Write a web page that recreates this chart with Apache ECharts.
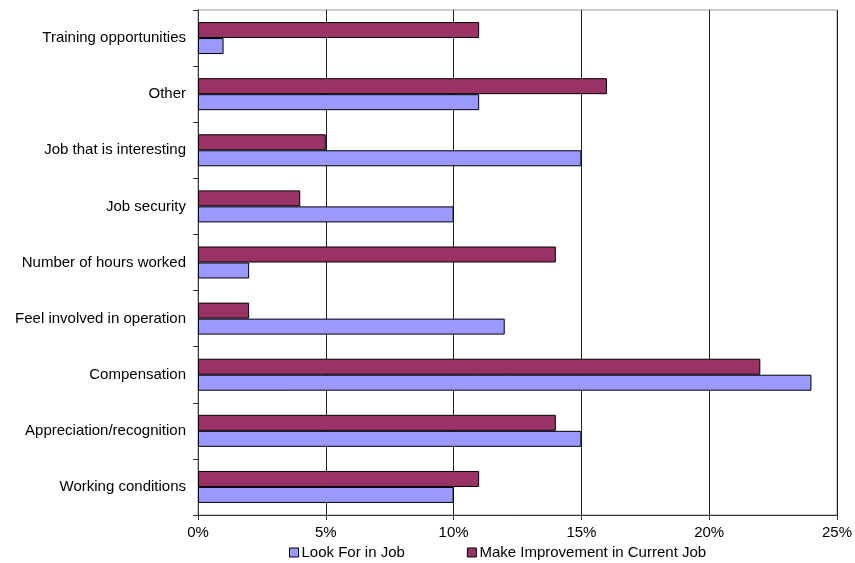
<!DOCTYPE html>
<html><head><meta charset="utf-8">
<script src="https://cdn.jsdelivr.net/npm/echarts@6/dist/echarts.min.js"></script>
<style>html,body{margin:0;padding:0;background:#fff}#c{width:855px;height:563px}</style>
</head><body><div id="c"></div>
<script>
const categories = ["Working conditions","Appreciation/recognition","Compensation","Feel involved in operation","Number of hours worked","Job security","Job that is interesting","Other","Training opportunities"];
const lookForInJob = [10,15,24,12,2,10,15,11,1];
const makeImprovement = [11,14,22,2,14,4,5,16,11];
const xTicks = [0,5,10,15,20,25];

const chart = echarts.init(document.getElementById('c'));
const font = 'Liberation Sans, Arial, sans-serif';
chart.setOption({
  animation:false,
  textStyle:{fontFamily:font},
  grid:{left:198,right:18,top:10,bottom:48,show:true,borderColor:'#9a9a9a',borderWidth:1,backgroundColor:'transparent'},
  legend:{
    top:545,left:289,itemWidth:9,itemHeight:9,itemGap:62,padding:0,
    textStyle:{fontFamily:font,fontSize:15,color:'#000',padding:[0,0,0,-2]},
    itemStyle:{borderColor:'#000',borderWidth:1},
    data:[{name:'Look For in Job',icon:'rect'},{name:'Make Improvement in Current Job',icon:'rect'}]
  },
  xAxis:{
    type:'value',min:xTicks[0],max:xTicks[xTicks.length-1],interval:5,
    axisLine:{show:true,lineStyle:{color:'#333'}},
    axisTick:{show:true,length:5,lineStyle:{color:'#333'}},
    axisLabel:{formatter:'{value}%',color:'#000',fontSize:15,fontFamily:font,margin:10},
    splitLine:{show:true,lineStyle:{color:'#222',width:1}}
  },
  yAxis:{
    type:'category',data:categories,
    axisLine:{show:true,lineStyle:{color:'#333'}},
    axisTick:{show:true,length:5,lineStyle:{color:'#333'}},
    axisLabel:{color:'#000',fontSize:15,fontFamily:font,margin:12}
  },
  series:[
    {name:'Make Improvement in Current Job',type:'bar',data:makeImprovement,barGap:'0%',barCategoryGap:'43%',
     itemStyle:{color:'#993366',borderColor:'#000',borderWidth:1}},
    {name:'Look For in Job',type:'bar',data:lookForInJob,barGap:'0%',barCategoryGap:'43%',
     itemStyle:{color:'#9999FF',borderColor:'#000',borderWidth:1}}
  ]
});
</script></body></html>
